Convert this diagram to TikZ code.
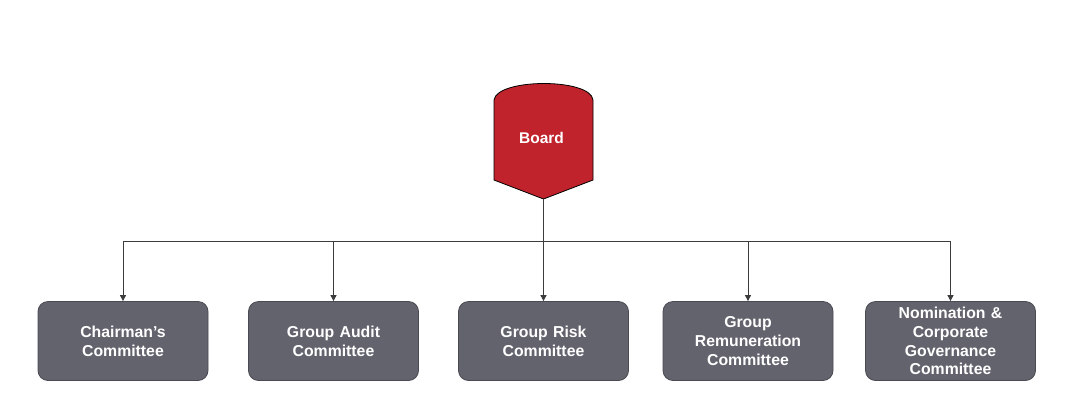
\documentclass[tikz,border=0pt]{standalone}
\usepackage{fontspec}
\setmainfont{Liberation Sans}
\usetikzlibrary{arrows.meta}
\definecolor{boardred}{HTML}{C0232B}
\definecolor{boxgray}{HTML}{62636D}
\definecolor{boxedge}{HTML}{4A4B52}
\definecolor{linegray}{HTML}{3C3C3C}
\tikzset{
  cbox/.style={draw=boxedge, line width=0.8pt, fill=boxgray, rounded corners=10pt,
    minimum width=170pt, minimum height=79pt, text width=160pt, align=center,
    text=white, font=\fontsize{15.8pt}{18.7pt}\selectfont\bfseries, inner sep=0pt},
  conn/.style={draw=linegray, line width=0.9pt},
  arr/.style={conn, -{Triangle[width=6pt,length=6pt]}},
  boardtxt/.style={text=white, font=\fontsize{15.5pt}{18pt}\selectfont\bfseries}
}
\begin{document}
\begin{tikzpicture}[x=1pt,y=-1pt]
\useasboundingbox (0,0) rectangle (1077,400);
% Board shape
\draw[fill=boardred, draw=black, line width=0.8pt]
  (494,180) -- (494,100) .. controls (497,78) and (591,78) .. (593,100)
  -- (593,180) -- (543.5,199) -- cycle;
\node[boardtxt] (board) at (541.5,138) {Board};
\coordinate (btip) at (543.5,199);
\coordinate (bus) at (543.5,241);
% Committees
\node[cbox] (c1) at (123,341) {Chairman's\\Committee};
\node[cbox] (c2) at (333.5,341) {Group Audit\\Committee};
\node[cbox] (c3) at (543.5,341) {Group Risk\\Committee};
\node[cbox] (c4) at (748,341) {Group\\Remuneration\\Committee};
\node[cbox] (c5) at (950.5,341) {Nomination \&\\Corporate\\Governance\\Committee};
% Connectors
\draw[conn] (btip) -- (bus);
\foreach \c in {c1,c2,c3,c4,c5}{
  \draw[arr] (bus) -| (\c.north);
}
\end{tikzpicture}
\end{document}
